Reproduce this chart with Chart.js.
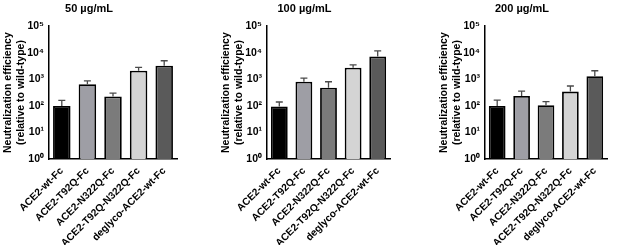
<!DOCTYPE html>
<html>
<head>
<meta charset="utf-8">
<script src="https://cdn.jsdelivr.net/npm/chart.js@4"></script>
<style>
  body { margin: 0; background: #fff; }
  .panel { position: absolute; top: 0; height: 245px; }
</style>
</head>
<body>
<div class="panel" style="left:0;width:205px"><canvas id="c50"></canvas></div>
<div class="panel" style="left:205px;width:205px"><canvas id="c100"></canvas></div>
<div class="panel" style="left:410px;width:207px"><canvas id="c200"></canvas></div>
<script>
const categories = ["ACE2-wt-Fc", "ACE2-T92Q-Fc", "ACE2-N322Q-Fc", "ACE2-T92Q-N322Q-Fc", "deglyco-ACE2-wt-Fc"];
const barColors = ['#000000', '#9e9ea5', '#7b7b7b', '#d4d4d4', '#5a5a5a'];
const tickValues = [1, 10, 100, 1000, 10000, 100000];
const tickLabels = ['10⁰', '10¹', '10²', '10³', '10⁴', '10⁵'];

const mean50 = [100, 650, 225, 2100, 3250];
const err50 = [160, 870, 300, 2800, 5000];
const mean100 = [95, 810, 480, 2750, 7200];
const err100 = [140, 1100, 810, 3500, 11800];
const mean200 = [100, 235, 105, 345, 1300];
const err200 = [165, 360, 145, 560, 2100];

const font = 'Liberation Sans';

// upper error bars, drawn from the y scale
const errorBars = {
  id: 'errorBars',
  afterDatasetsDraw(chart, args, opts) {
    const ctx = chart.ctx;
    const y = chart.scales.y;
    const meta = chart.getDatasetMeta(0);
    ctx.save();
    ctx.strokeStyle = '#4a4a4a';
    ctx.lineWidth = 1.3;
    meta.data.forEach((bar, i) => {
      const top = y.getPixelForValue(opts.errors[i]);
      ctx.beginPath();
      ctx.moveTo(bar.x, bar.y);
      ctx.lineTo(bar.x, top);
      ctx.moveTo(bar.x - 3.5, top);
      ctx.lineTo(bar.x + 3.5, top);
      ctx.stroke();
    });
    ctx.restore();
  }
};

function makeChart(id, title, means, errors, padLeft, padRight) {
  new Chart(document.getElementById(id), {
    type: 'bar',
    plugins: [errorBars],
    data: {
      labels: categories,
      datasets: [{
        data: means,
        backgroundColor: barColors,
        borderColor: '#000',
        borderWidth: 1.8,
        borderSkipped: 'bottom',
        barPercentage: 0.72,
        categoryPercentage: 0.95
      }]
    },
    options: {
      responsive: true,
      maintainAspectRatio: false,
      animation: false,
      layout: { padding: { left: padLeft, right: padRight, top: 0, bottom: 0 } },
      plugins: {
        legend: { display: false },
        tooltip: { enabled: false },
        errorBars: { errors: errors },
        title: {
          display: true,
          text: title,
          color: '#000',
          font: { family: font, size: 11, weight: 'bold' },
          padding: { top: 2, bottom: 11 },
          align: 'center'
        }
      },
      scales: {
        x: {
          grid: { display: false, drawTicks: true, tickLength: 4, tickColor: '#000', tickWidth: 1.3 },
          border: { color: '#000', width: 1.5 },
          ticks: {
            color: '#000',
            minRotation: 45,
            maxRotation: 45,
            autoSkip: false,
            padding: 2,
            font: { family: font, size: 10.2, weight: 'bold' }
          },
          afterFit(scale) { scale.height = 86; }
        },
        y: {
          type: 'logarithmic',
          min: 1,
          max: 100000,
          grid: { display: false, drawTicks: true, tickLength: 3, tickColor: '#000', tickWidth: 1.3 },
          border: { color: '#000', width: 1.5 },
          afterBuildTicks(scale) { scale.ticks = tickValues.map(v => ({ value: v })); },
          ticks: {
            color: '#000',
            padding: 2,
            font: { family: font, size: 10.5, weight: 'bold' },
            callback: (v) => tickLabels[tickValues.indexOf(v)]
          },
          title: {
            display: true,
            text: ['Neutralization efficiency', '(relative to wild-type)'],
            color: '#000',
            font: { family: font, size: 10.5, weight: 'bold', lineHeight: 1.3 },
            padding: { top: 0, bottom: 4 }
          },
          afterFit(scale) { scale.width = 48; }
        }
      }
    }
  });
}

makeChart('c50', '50 µg/mL', mean50, err50, 1, 28);
makeChart('c100', '100 µg/mL', mean100, err100, 14, 20);
makeChart('c200', '200 µg/mL', mean200, err200, 27, 10);
</script>
</body>
</html>
